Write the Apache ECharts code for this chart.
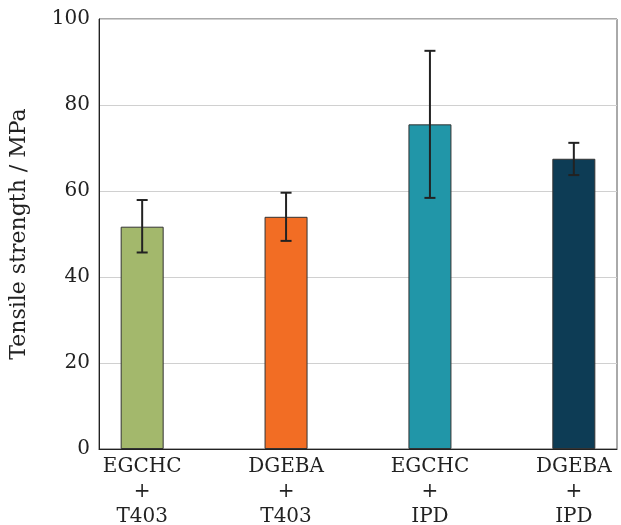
<!DOCTYPE html>
<html lang="en" style="height: 100%">
<head>
  <meta charset="utf-8">
</head>
<body style="height: 100%; margin: 0; background: #fff">
  <div id="container" style="width: 621px; height: 525px"></div>
  <script type="text/javascript" src="https://fastly.jsdelivr.net/npm/echarts@6.0.0/dist/echarts.min.js"></script>
  <script type="text/javascript">
    // categories (x positions 0..3)
    const categories = ['EGCHC\n+\nT403', 'DGEBA\n+\nT403', 'EGCHC\n+\nIPD', 'DGEBA\n+\nIPD'];
    // mean tensile strength / MPa
    const strength = [51.7, 54.0, 75.5, 67.5];
    // error bar ends
    const errLow = [45.7, 48.4, 58.4, 63.7];
    const errHigh = [57.9, 59.6, 92.6, 71.2];
    const barColors = ['#a3b86c', '#f26d24', '#2196a8', '#0d3c55'];
    const yTicks = [0, 20, 40, 60, 80, 100];

    const font = '"DejaVu Serif", "Liberation Serif", serif';

    var dom = document.getElementById('container');
    var myChart = echarts.init(dom, null, { renderer: 'canvas' });

    var option = {
      animation: false,
      grid: {
        left: 99, right: 4, top: 19, bottom: 76,
        outerBoundsMode: 'none',
        containLabel: false,
        show: true, borderColor: '#555', borderWidth: 1
      },
      xAxis: {
        type: 'value',
        min: -0.3,
        max: 3.3,
        splitLine: { show: false },
        axisTick: { show: false },
        axisLine: { show: true, onZero: false, lineStyle: { color: '#222', width: 1 } },
        axisLabel: {
          customValues: [0, 1, 2, 3],
          formatter: v => categories[Math.round(v)],
          fontFamily: font,
          fontSize: 20,
          color: '#222',
          lineHeight: 25,
          margin: 5
        }
      },
      yAxis: {
        type: 'value',
        min: 0,
        max: 100,
        interval: 20,
        name: 'Tensile strength / MPa',
        nameLocation: 'middle',
        nameGap: 69,
        nameTextStyle: { fontFamily: font, fontSize: 22, color: '#222' },
        axisLine: { show: true, onZero: false, lineStyle: { color: '#222', width: 1 } },
        axisTick: { show: false },
        splitLine: { show: true, lineStyle: { color: '#d0d0d0', width: 1 } },
        axisLabel: {
          formatter: v => (yTicks.includes(v) ? String(v) : ''),
          fontFamily: font,
          fontSize: 20,
          color: '#222',
          margin: 9
        }
      },
      series: [
        {
          type: 'bar',
          barWidth: 43,
          data: strength.map((v, i) => ({
            value: [i, v],
            itemStyle: { color: barColors[i], borderColor: '#333', borderWidth: 1 }
          })),
          z: 2
        },
        {
          type: 'custom',
          z: 3,
          data: strength.map((v, i) => [i, errLow[i], errHigh[i]]),
          renderItem: function (params, api) {
            const x = api.value(0);
            const lo = api.coord([x, api.value(1)]);
            const hi = api.coord([x, api.value(2)]);
            const cap = 5.5;
            const style = { stroke: '#222', lineWidth: 2 };
            return {
              type: 'group',
              children: [
                { type: 'line', shape: { x1: lo[0], y1: lo[1], x2: hi[0], y2: hi[1] }, style: style },
                { type: 'line', shape: { x1: hi[0] - cap, y1: hi[1], x2: hi[0] + cap, y2: hi[1] }, style: style },
                { type: 'line', shape: { x1: lo[0] - cap, y1: lo[1], x2: lo[0] + cap, y2: lo[1] }, style: style }
              ]
            };
          }
        }
      ]
    };

    myChart.setOption(option);
    window.addEventListener('resize', myChart.resize);
  </script>
</body>
</html>
